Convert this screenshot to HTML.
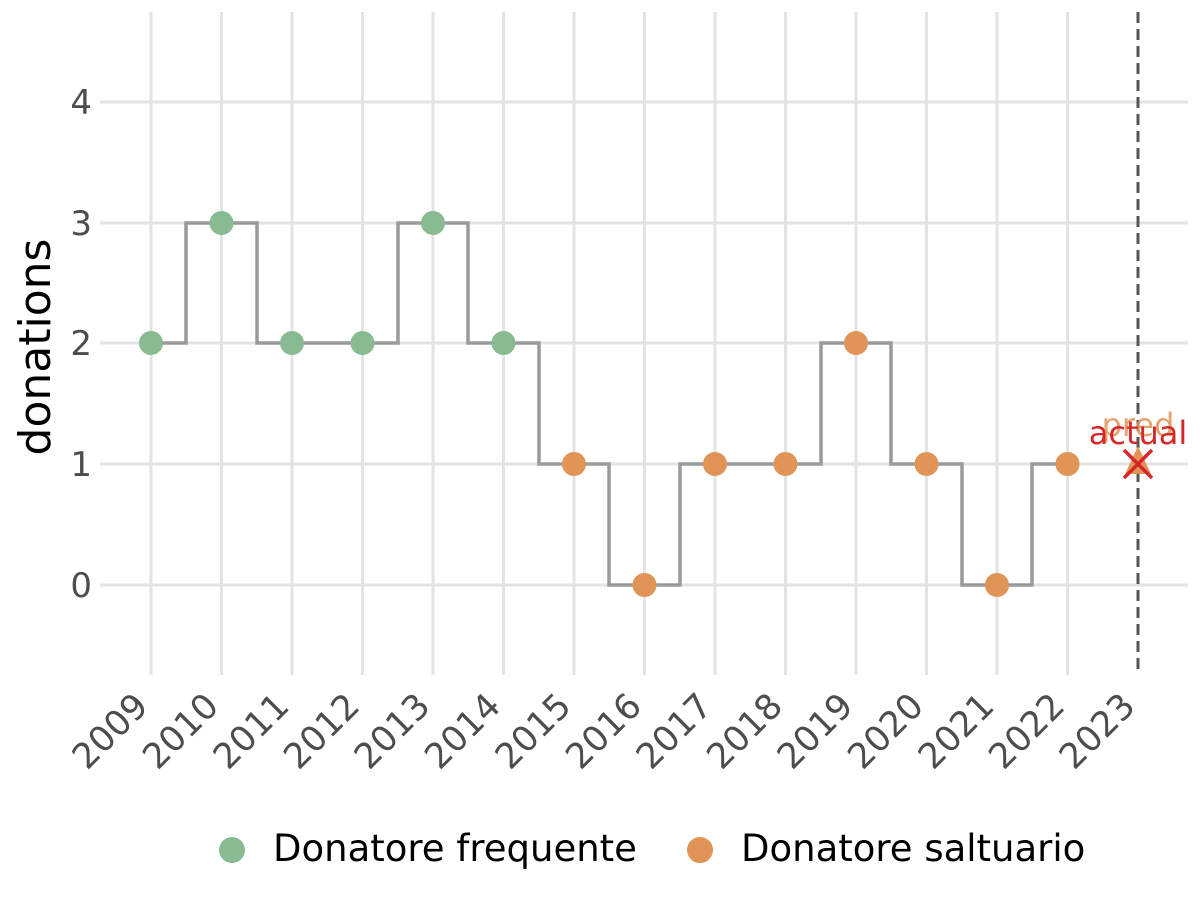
<!DOCTYPE html>
<html><head><meta charset="utf-8"><style>body{margin:0;background:#fff}svg{display:block}text{font-family:"DejaVu Sans","Liberation Sans",sans-serif}</style></head>
<body>
<svg width="1200" height="900" viewBox="0 0 1200 900">
<g stroke="#e3e3e3" stroke-width="3">
<line x1="100" x2="1188" y1="585" y2="585"/><line x1="100" x2="1188" y1="464" y2="464"/><line x1="100" x2="1188" y1="343" y2="343"/><line x1="100" x2="1188" y1="223" y2="223"/><line x1="100" x2="1188" y1="102" y2="102"/>
<line x1="151" x2="151" y1="12" y2="675"/><line x1="221.5" x2="221.5" y1="12" y2="675"/><line x1="292" x2="292" y1="12" y2="675"/><line x1="362.5" x2="362.5" y1="12" y2="675"/><line x1="433" x2="433" y1="12" y2="675"/><line x1="503.5" x2="503.5" y1="12" y2="675"/><line x1="574" x2="574" y1="12" y2="675"/><line x1="644.5" x2="644.5" y1="12" y2="675"/><line x1="715" x2="715" y1="12" y2="675"/><line x1="785.5" x2="785.5" y1="12" y2="675"/><line x1="856" x2="856" y1="12" y2="675"/><line x1="926.5" x2="926.5" y1="12" y2="675"/><line x1="997" x2="997" y1="12" y2="675"/><line x1="1067.5" x2="1067.5" y1="12" y2="675"/>
</g>
<line x1="1138" x2="1138" y1="12" y2="675" stroke="#555" stroke-width="3" stroke-dasharray="11,6"/>
<path d="M151 343 H186 V223 H257 V343 H398 V223 H468 V343 H539 V464 H609 V585 H680 V464 H821 V343 H891 V464 H962 V585 H1032 V464 H1068" fill="none" stroke="#9a9a9a" stroke-width="3.5"/>
<g fill="#88bb92"><circle cx="151" cy="343" r="12"/><circle cx="221.5" cy="223" r="12"/><circle cx="292" cy="343" r="12"/><circle cx="362.5" cy="343" r="12"/><circle cx="433" cy="223" r="12"/><circle cx="503.5" cy="343" r="12"/></g>
<g fill="#e09456"><circle cx="574" cy="464" r="12"/><circle cx="644.5" cy="585" r="12"/><circle cx="715" cy="464" r="12"/><circle cx="785.5" cy="464" r="12"/><circle cx="856" cy="343" r="12"/><circle cx="926.5" cy="464" r="12"/><circle cx="997" cy="585" r="12"/><circle cx="1067.5" cy="464" r="12"/>
<polygon points="1138,446 1125,474 1151,474"/></g>
<text x="1138" y="436" font-size="32" fill="#e09456" text-anchor="middle" opacity="0.85">pred</text>
<text x="1138" y="444" font-size="32" fill="#d62728" text-anchor="middle">actual</text>
<path d="M1124 450 L1152 478 M1152 450 L1124 478" stroke="#d62728" stroke-width="3.5"/>
<g font-size="34" fill="#4d4d4d" text-anchor="end">
<text x="92" y="597">0</text><text x="92" y="476">1</text><text x="92" y="355">2</text><text x="92" y="235">3</text><text x="92" y="114">4</text>
</g>
<g font-size="35" fill="#4d4d4d" text-anchor="end">
<text transform="translate(150,708) rotate(-45)">2009</text><text transform="translate(220.5,708) rotate(-45)">2010</text><text transform="translate(291,708) rotate(-45)">2011</text><text transform="translate(361.5,708) rotate(-45)">2012</text><text transform="translate(432,708) rotate(-45)">2013</text><text transform="translate(502.5,708) rotate(-45)">2014</text><text transform="translate(573,708) rotate(-45)">2015</text><text transform="translate(643.5,708) rotate(-45)">2016</text><text transform="translate(714,708) rotate(-45)">2017</text><text transform="translate(784.5,708) rotate(-45)">2018</text><text transform="translate(855,708) rotate(-45)">2019</text><text transform="translate(925.5,708) rotate(-45)">2020</text><text transform="translate(996,708) rotate(-45)">2021</text><text transform="translate(1066.5,708) rotate(-45)">2022</text><text transform="translate(1137,708) rotate(-45)">2023</text>
</g>
<text transform="translate(50,347) rotate(-90)" font-size="44" fill="#000" text-anchor="middle">donations</text>
<circle cx="232" cy="850" r="13" fill="#88bb92"/>
<text x="273" y="861" font-size="37" fill="#000">Donatore frequente</text>
<circle cx="700" cy="850" r="13" fill="#e09456"/>
<text x="741" y="861" font-size="37" fill="#000">Donatore saltuario</text>
</svg>
</body></html>
